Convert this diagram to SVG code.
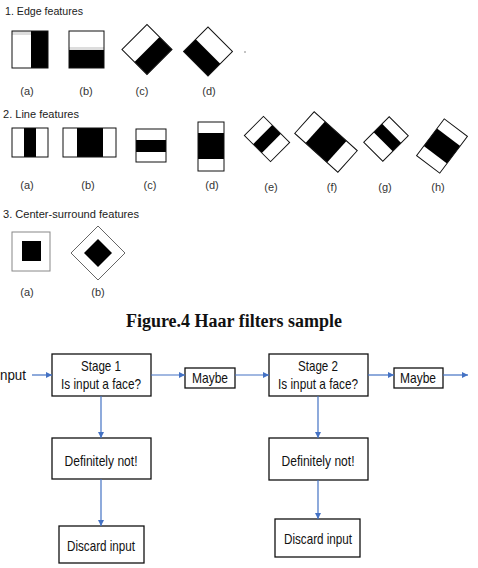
<svg xmlns="http://www.w3.org/2000/svg" width="478" height="568" viewBox="0 0 478 568">
<style>
.hd{font-family:"Liberation Sans",Arial,sans-serif;font-size:11px;fill:#222}
.lb{font-family:"Liberation Sans",Arial,sans-serif;font-size:11px;fill:#333;text-anchor:middle}
.ttl{font-family:"Liberation Serif","Times New Roman",serif;font-size:18px;font-weight:bold;fill:#111}
.ft{font-family:"Liberation Sans",Arial,sans-serif;font-size:15px;fill:#111;text-anchor:middle}
.box{fill:#fff;stroke:#111;stroke-width:1.3}
.ol{fill:none;stroke:#111;stroke-width:1}
.w{fill:#fff}
.b{fill:#000}
.con{stroke:#4472C4;stroke-width:1.2;fill:none;marker-end:url(#ah)}
</style>
<defs>
<marker id="ah" markerUnits="userSpaceOnUse" markerWidth="6" markerHeight="6" refX="6" refY="3" orient="auto">
<path d="M0,0 L6,3 L0,6 Z" fill="#4472C4"/>
</marker>
</defs>
<rect width="478" height="568" fill="#fff"/>

<!-- Section 1 -->
<text class="hd" x="5" y="15" textLength="78" lengthAdjust="spacingAndGlyphs">1. Edge features</text>
<g id="edge-a">
<rect x="12" y="31" width="19" height="37" class="w"/>
<rect x="12" y="31" width="19" height="4" fill="#ddd"/>
<rect x="31" y="31" width="17" height="37" class="b"/>
<rect x="12" y="31" width="36" height="37" class="ol"/>
</g>
<g id="edge-b">
<rect x="69" y="31" width="35" height="19" class="w"/>
<rect x="69" y="47" width="35" height="3" fill="#ddd"/>
<rect x="69" y="50" width="35" height="18" class="b"/>
<rect x="69" y="31" width="35" height="37" class="ol"/>
</g>
<g id="edge-c" transform="translate(147,49.5) rotate(45)">
<rect x="-17.7" y="-17.7" width="17.7" height="35.4" class="w"/>
<rect x="0" y="-17.7" width="17.7" height="35.4" class="b"/>
<rect x="-17.7" y="-17.7" width="35.4" height="35.4" class="ol"/>
</g>
<g id="edge-d" transform="translate(208,51.5) rotate(45)">
<rect x="-17.3" y="-17.3" width="34.6" height="17.3" class="w"/>
<rect x="-17.3" y="0" width="34.6" height="17.3" class="b"/>
<rect x="-17.3" y="-17.3" width="34.6" height="34.6" class="ol"/>
</g>
<line x1="244" y1="52" x2="246" y2="52" stroke="#888" stroke-width="1"/>
<text class="lb" x="27" y="95">(a)</text>
<text class="lb" x="86" y="95">(b)</text>
<text class="lb" x="142" y="95">(c)</text>
<text class="lb" x="209" y="95">(d)</text>

<!-- Section 2 -->
<text class="hd" x="3" y="118" textLength="76" lengthAdjust="spacingAndGlyphs">2. Line features</text>
<g id="line-a">
<rect x="12" y="128" width="36" height="29" class="w"/>
<rect x="24" y="128" width="12" height="29" class="b"/>
<rect x="12" y="128" width="36" height="29" class="ol"/>
</g>
<g id="line-b">
<rect x="63" y="128" width="53" height="29" class="w"/>
<rect x="77" y="128" width="26" height="29" class="b"/>
<rect x="63" y="128" width="53" height="29" class="ol"/>
</g>
<g id="line-c">
<rect x="136" y="129" width="30" height="33" class="w"/>
<rect x="136" y="140" width="30" height="12" class="b"/>
<rect x="136" y="129" width="30" height="33" class="ol"/>
</g>
<g id="line-d">
<rect x="198" y="122" width="26" height="49" class="w"/>
<rect x="198" y="133" width="26" height="26" class="b"/>
<rect x="198" y="122" width="26" height="49" class="ol"/>
</g>
<g id="line-e" transform="translate(267,139) rotate(45)">
<rect x="-18.5" y="-13.5" width="37" height="27" class="w"/>
<rect x="-6.2" y="-13.5" width="12.4" height="27" class="b"/>
<rect x="-18.5" y="-13.5" width="37" height="27" class="ol"/>
</g>
<g id="line-f" transform="translate(326,142) rotate(42)">
<rect x="-29" y="-14.5" width="58" height="29" class="w"/>
<rect x="-14.5" y="-14.5" width="29" height="29" class="b"/>
<rect x="-29" y="-14.5" width="58" height="29" class="ol"/>
</g>
<g id="line-g" transform="translate(386,139) rotate(-45)">
<rect x="-18" y="-13.5" width="36" height="27" class="w"/>
<rect x="-4" y="-13.5" width="12" height="27" class="b"/>
<rect x="-18" y="-13.5" width="36" height="27" class="ol"/>
</g>
<g id="line-h" transform="translate(442,146) rotate(-53)">
<rect x="-23" y="-14.5" width="46" height="29" class="w"/>
<rect x="-11" y="-14.5" width="22" height="29" class="b"/>
<rect x="-23" y="-14.5" width="46" height="29" class="ol"/>
</g>
<text class="lb" x="27" y="189">(a)</text>
<text class="lb" x="88" y="189">(b)</text>
<text class="lb" x="150" y="189">(c)</text>
<text class="lb" x="212" y="189">(d)</text>
<text class="lb" x="271" y="191">(e)</text>
<text class="lb" x="332" y="191">(f)</text>
<text class="lb" x="385" y="191">(g)</text>
<text class="lb" x="438" y="191">(h)</text>

<!-- Section 3 -->
<text class="hd" x="3" y="218" textLength="136" lengthAdjust="spacingAndGlyphs">3. Center-surround features</text>
<g id="cs-a">
<rect x="12" y="232" width="38" height="39" fill="#fff" stroke="#888" stroke-width="1"/>
<rect x="22" y="241" width="19" height="20" class="b"/>
</g>
<g id="cs-b">
<polygon points="98,226 125,253 98,280 71,253" fill="#fff" stroke="#666" stroke-width="1"/>
<polygon points="98,239 112,253 98,267 84,253" class="b"/>
</g>
<text class="lb" x="27" y="296">(a)</text>
<text class="lb" x="98" y="296">(b)</text>

<!-- Title -->
<text class="ttl" x="126" y="327" textLength="216" lengthAdjust="spacingAndGlyphs">Figure.4 Haar filters sample</text>

<!-- Flowchart -->
<g id="input">
<text class="ft" x="0" y="380" style="text-anchor:start" textLength="26" lengthAdjust="spacingAndGlyphs">nput</text>
</g>
<g id="stage1">
<rect x="52" y="354" width="99" height="42" class="box"/>
<text class="ft" x="101" y="371" textLength="40" lengthAdjust="spacingAndGlyphs">Stage 1</text>
<text class="ft" x="101" y="389" textLength="80" lengthAdjust="spacingAndGlyphs">Is input a face?</text>
</g>
<g id="maybe1">
<rect x="185" y="368" width="50" height="20" class="box"/>
<text class="ft" x="210" y="383" textLength="36" lengthAdjust="spacingAndGlyphs">Maybe</text>
</g>
<g id="notface1">
<rect x="52" y="438" width="99" height="41" class="box"/>
<text class="ft" x="101" y="466" textLength="73" lengthAdjust="spacingAndGlyphs">Definitely not!</text>
</g>
<g id="discard1">
<rect x="59" y="526" width="85" height="37" class="box"/>
<text class="ft" x="101" y="551" textLength="68" lengthAdjust="spacingAndGlyphs">Discard input</text>
</g>
<g id="stage2">
<rect x="269" y="354" width="99" height="42" class="box"/>
<text class="ft" x="318" y="371" textLength="40" lengthAdjust="spacingAndGlyphs">Stage 2</text>
<text class="ft" x="318" y="389" textLength="80" lengthAdjust="spacingAndGlyphs">Is input a face?</text>
</g>
<g id="maybe2">
<rect x="394" y="368" width="49" height="20" class="box"/>
<text class="ft" x="418" y="383" textLength="36" lengthAdjust="spacingAndGlyphs">Maybe</text>
</g>
<g id="notface2">
<rect x="269" y="438" width="99" height="42" class="box"/>
<text class="ft" x="318" y="466" textLength="73" lengthAdjust="spacingAndGlyphs">Definitely not!</text>
</g>
<g id="discard2">
<rect x="275" y="519" width="85" height="38" class="box"/>
<text class="ft" x="318" y="544" textLength="68" lengthAdjust="spacingAndGlyphs">Discard input</text>
</g>

<g id="connectors">
<line class="con" x1="32" y1="375" x2="52" y2="375"/>
<line class="con" x1="151" y1="375" x2="185" y2="375"/>
<line class="con" x1="235" y1="375" x2="269" y2="375"/>
<line class="con" x1="368" y1="375" x2="394" y2="375"/>
<line class="con" x1="443" y1="375" x2="468" y2="375"/>
<line class="con" x1="101" y1="396" x2="101" y2="438"/>
<line class="con" x1="101" y1="479" x2="101" y2="526"/>
<line class="con" x1="318" y1="396" x2="318" y2="438"/>
<line class="con" x1="318" y1="480" x2="318" y2="519"/>
</g>
</svg>
